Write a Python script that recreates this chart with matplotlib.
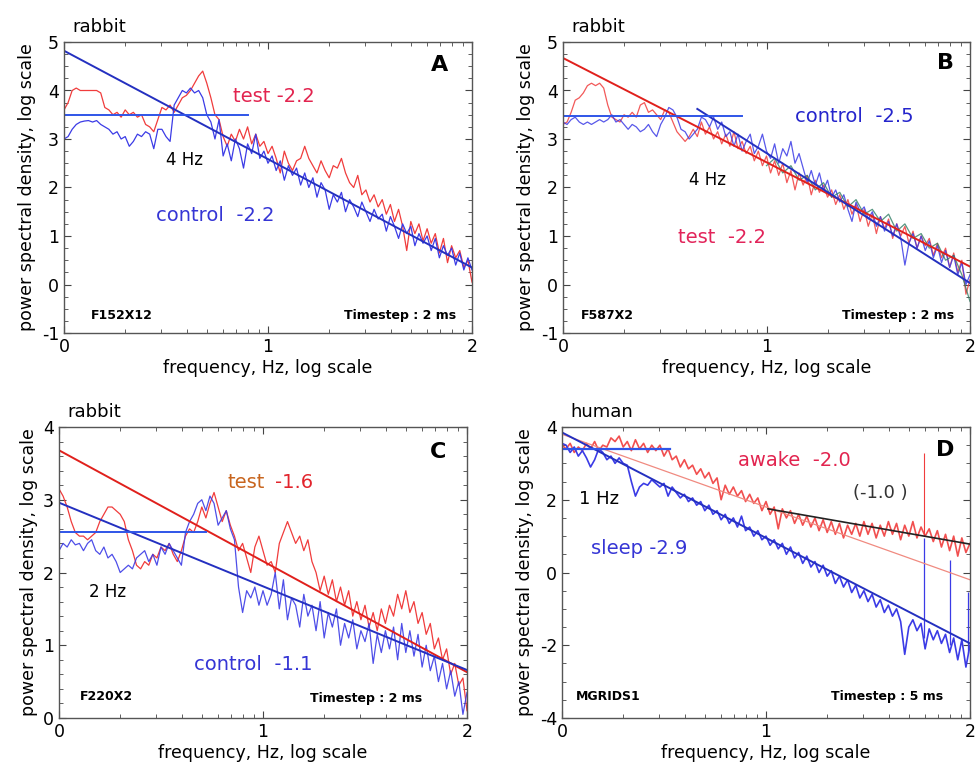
import numpy as np
import matplotlib
matplotlib.use("Agg")
import matplotlib.pyplot as plt
from matplotlib.ticker import FixedLocator, MultipleLocator

plt.rcParams['font.family'] = ['DejaVu Sans']
plt.rcParams['axes.unicode_minus'] = False

# ---------------- data (log10 frequency grid, log10 PSD) ----------------
freq_grid = np.linspace(0, 2, 101)

a_control = [3.00, 3.05, 3.20, 3.30, 3.35, 3.37, 3.38, 3.35, 3.38, 3.30,
             3.25, 3.20, 3.10, 3.15, 3.00, 3.05, 2.85, 2.95, 3.10, 3.05,
             3.15, 3.10, 2.80, 3.20, 3.20, 3.05, 2.95, 3.70, 3.85, 4.00,
             3.95, 4.05, 3.95, 4.00, 3.85, 3.50, 3.35, 3.00, 3.40, 2.65,
             2.90, 2.55, 3.00, 2.80, 2.40, 2.90, 2.70, 3.10, 2.60, 2.75,
             2.50, 2.65, 2.35, 2.55, 2.15, 2.45, 2.25, 2.40, 2.05, 2.30,
             2.00, 2.20, 1.80, 2.10, 1.95, 1.55, 1.85, 1.70, 1.90, 1.50,
             1.75, 1.60, 1.40, 1.70, 1.50, 1.30, 1.55, 1.35, 1.45, 1.10,
             1.40, 1.20, 0.95, 1.25, 1.05, 1.20, 0.80, 1.05, 0.85, 1.00,
             0.70, 0.95, 0.55, 0.80, 0.60, 0.75, 0.40, 0.65, 0.30, 0.55, 0.30]
a_test = [3.60, 3.75, 4.00, 4.05, 4.00, 4.00, 4.00, 4.00, 4.00, 3.95,
          3.65, 3.60, 3.50, 3.55, 3.45, 3.60, 3.50, 3.55, 3.45, 3.50,
          3.30, 3.25, 3.15, 3.40, 3.65, 3.60, 3.70, 3.55, 3.70, 3.85,
          3.90, 4.00, 4.15, 4.30, 4.40, 4.15, 3.85, 3.50, 3.40, 3.05,
          2.85, 3.10, 2.95, 3.20, 3.00, 3.25, 2.90, 3.10, 2.85, 2.95,
          2.70, 2.85, 2.60, 2.30, 2.75, 2.50, 2.35, 2.55, 2.60, 2.85,
          2.60, 2.45, 2.30, 2.55, 2.35, 2.20, 2.45, 2.40, 2.60, 2.30,
          2.10, 2.00, 2.25, 1.85, 1.95, 1.70, 1.85, 1.60, 1.75, 1.45,
          1.65, 1.30, 1.55, 1.20, 0.70, 1.30, 1.05, 1.25, 0.90, 1.15,
          0.85, 1.05, 0.65, 0.95, 0.45, 0.80, 0.55, 0.70, 0.35, 0.50, 0.05]

b_control = [3.35, 3.30, 3.40, 3.45, 3.35, 3.30, 3.35, 3.30, 3.35, 3.40,
             3.35, 3.40, 3.50, 3.35, 3.40, 3.30, 3.20, 3.30, 3.25, 3.15,
             3.20, 3.30, 3.15, 3.05, 3.30, 3.45, 3.65, 3.60, 3.45, 3.20,
             3.15, 3.00, 3.10, 3.20, 3.45, 3.40, 3.25, 3.45, 3.20, 3.35,
             3.05, 3.15, 2.85, 3.10, 2.75, 2.95, 3.10, 2.70, 2.85, 3.10,
             2.75, 2.60, 2.90, 2.50, 2.80, 2.65, 2.95, 2.50, 2.70, 2.40,
             2.10, 2.35, 2.05, 2.30, 1.95, 2.15, 1.80, 1.95, 1.70, 1.85,
             1.55, 1.30, 1.70, 1.50, 1.60, 1.35, 1.50, 1.20, 1.40, 1.10,
             1.30, 1.00, 1.25, 0.95, 0.40, 0.85, 1.05, 0.75, 1.00, 0.70,
             0.90, 0.55, 0.80, 0.45, 0.70, 0.35, 0.60, 0.20, 0.45, 0.00, 0.20]
b_test = [3.30, 3.35, 3.55, 3.80, 3.85, 3.95, 4.10, 4.15, 4.10, 4.15,
          4.05, 3.70, 3.45, 3.40, 3.35, 3.50, 3.45, 3.55, 3.45, 3.70,
          3.75, 3.55, 3.60, 3.50, 3.40, 3.60, 3.55, 3.35, 3.15, 3.05,
          2.95, 3.05, 3.20, 3.05, 3.35, 3.10, 3.25, 3.00, 3.15, 2.90,
          3.10, 2.85, 3.15, 2.80, 2.95, 2.70, 2.85, 2.55, 2.75, 2.45,
          2.65, 2.30, 2.55, 2.25, 2.50, 2.10, 2.35, 1.95, 2.30, 2.05,
          2.25, 1.85, 2.15, 1.90, 2.05, 1.80, 1.95, 1.65, 1.85, 1.55,
          1.75, 1.45, 1.65, 1.30, 1.55, 1.20, 1.45, 1.05, 1.40, 1.15,
          1.35, 0.95, 1.25, 1.00, 1.20, 0.85, 1.10, 0.75, 1.00, 0.80,
          0.95, 0.60, 0.85, 0.55, 0.75, 0.35, 0.65, 0.25, 0.50, -0.20, 0.10]
b_other_freq = np.linspace(1.0, 2.0, 26)
b_other = [2.45, 2.60, 2.30, 2.45, 2.15, 2.25, 1.95, 2.10, 1.80, 1.90,
           1.60, 1.75, 1.45, 1.55, 1.30, 1.45, 1.10, 1.25, 0.95, 1.05,
           0.75, 0.85, 0.50, 0.60, 0.20, -0.35]

c_control = [2.30, 2.40, 2.35, 2.45, 2.38, 2.40, 2.30, 2.40, 2.45, 2.30,
             2.25, 2.35, 2.20, 2.25, 2.15, 2.00, 2.05, 2.10, 2.05, 2.20,
             2.25, 2.30, 2.15, 2.25, 2.10, 2.35, 2.25, 2.40, 2.30, 2.20,
             2.10, 2.55, 2.70, 2.80, 2.95, 3.00, 2.85, 3.05, 2.95, 2.65,
             2.75, 2.85, 2.60, 2.45, 1.80, 1.45, 1.75, 1.65, 1.80, 1.55,
             1.75, 1.55, 1.70, 2.00, 1.50, 1.90, 1.35, 1.65, 1.55, 1.25,
             1.70, 1.40, 1.55, 1.20, 1.60, 1.10, 1.45, 1.25, 1.50, 1.00,
             1.30, 1.10, 1.35, 0.95, 1.20, 1.05, 1.30, 0.75, 1.15, 0.90,
             1.20, 0.95, 1.25, 0.80, 1.30, 0.90, 1.20, 0.85, 1.15, 0.70,
             1.00, 0.65, 0.85, 0.50, 0.75, 0.40, 0.65, 0.30, 0.50, 0.05, 0.35]
c_test = [3.15, 3.05, 2.90, 2.70, 2.55, 2.50, 2.50, 2.45, 2.50, 2.55,
          2.70, 2.80, 2.90, 2.90, 2.85, 2.80, 2.70, 2.45, 2.30, 2.10,
          2.05, 2.15, 2.10, 2.25, 2.20, 2.35, 2.30, 2.40, 2.25, 2.15,
          2.30, 2.50, 2.60, 2.55, 2.70, 2.90, 2.75, 2.95, 3.10, 2.90,
          2.70, 2.85, 2.65, 2.50, 2.30, 2.40, 2.20, 2.00, 2.35, 2.50,
          2.30, 2.10, 2.15, 2.00, 2.40, 2.55, 2.70, 2.55, 2.40, 2.50,
          2.30, 2.45, 2.15, 2.00, 1.75, 1.95, 1.70, 1.90, 1.60, 1.80,
          1.55, 1.75, 1.40, 1.60, 1.35, 1.55, 1.25, 1.45, 1.20, 1.50,
          1.30, 1.55, 1.40, 1.70, 1.50, 1.75, 1.45, 1.60, 1.30, 1.45,
          1.15, 1.30, 0.95, 1.10, 0.80, 0.95, 0.60, 0.75, 0.45, 0.55, 0.10]

d_sleep = [3.55, 3.50, 3.30, 3.45, 3.20, 3.35, 3.15, 2.90, 3.10, 3.40,
           3.30, 3.10, 3.20, 3.00, 3.15, 3.00, 2.95, 2.50, 2.10, 2.35,
           2.45, 2.40, 2.55, 2.45, 2.35, 2.45, 2.10, 2.35, 2.20, 2.05,
           2.15, 1.95, 2.05, 1.85, 1.95, 1.70, 1.85, 1.60, 1.70, 1.45,
           1.60, 1.35, 1.50, 1.25, 1.55, 1.15, 1.25, 1.00, 1.15, 0.90,
           1.00, 0.75, 0.90, 0.65, 0.80, 0.50, 0.70, 0.40, 0.55, 0.25,
           0.45, 0.15, 0.30, 0.00, 0.20, -0.10, 0.05, -0.30, -0.10, -0.40,
           -0.20, -0.55, -0.35, -0.70, -0.50, -0.80, -0.60, -0.95, -0.75, -1.10,
           -0.90, -1.20, -1.00, -1.35, -2.25, -1.50, -1.30, -1.60, -1.40, -2.10,
           -1.55, -1.85, -1.60, -1.95, -1.70, -2.20, -1.80, -2.40, -1.85, -2.60, -2.00]
d_awake = [3.50, 3.40, 3.55, 3.30, 3.45, 3.35, 3.55, 3.40, 3.60, 3.35,
           3.50, 3.45, 3.70, 3.60, 3.75, 3.45, 3.60, 3.35, 3.65, 3.40,
           3.55, 3.30, 3.50, 3.35, 3.50, 3.20, 3.40, 3.10, 3.20, 2.90,
           3.10, 2.85, 2.95, 2.70, 2.85, 2.60, 2.75, 2.45, 2.60, 2.00,
           2.40, 2.15, 2.35, 2.10, 2.25, 1.95, 2.15, 1.90, 2.05, 1.70,
           1.95, 1.60, 1.80, 1.20, 1.75, 1.50, 1.70, 1.35, 1.60, 1.30,
           1.55, 1.25, 1.50, 1.15, 1.45, 1.10, 1.40, 1.05, 1.35, 0.95,
           1.30, 1.05, 1.35, 1.00, 1.40, 1.05, 1.35, 0.95, 1.30, 1.00,
           1.40, 1.05, 1.35, 0.90, 1.30, 1.00, 1.40, 0.95, 1.25, 1.00,
           1.20, 0.85, 1.15, 0.70, 1.05, 0.60, 1.00, 0.45, 0.95, 0.55, 0.80]
d_sleep_spike_freq = [1.775, 1.90, 1.99]
d_sleep_spike_top = [0.95, 0.34, -0.54]
d_sleep_spike_bottom = [-1.80, -2.00, -2.20]
d_awake_spike_freq = [1.775]
d_awake_spike_top = [3.28]
d_awake_spike_bottom = [1.00]

# fitted lines: (x0, y0, x1, y1)
a_fit = (0.0, 4.82, 2.0, 0.35)
a_plateau = (0.0, 3.5, 0.9, 3.5)
b_fit_test = (0.0, 4.67, 2.0, 0.37)
b_fit_control = (0.66, 3.62, 2.0, 0.03)
b_plateau = (0.0, 3.48, 0.88, 3.48)
c_fit_test = (0.0, 3.68, 2.0, 0.63)
c_fit_control = (0.0, 2.96, 2.0, 0.66)
c_plateau = (0.0, 2.56, 0.72, 2.56)
d_fit_awake = (0.0, 3.80, 2.0, -0.20)
d_fit_sleep = (0.0, 3.85, 2.0, -1.95)
d_fit_high = (1.01, 1.75, 2.0, 0.78)
d_plateau = (0.0, 3.40, 0.53, 3.40)

BLUE = '#3b3be6'
RED = '#f03c3c'
FITBLUE = '#2430c0'
FITRED = '#e0201c'
PLATBLUE = '#2f55e8'

W, H = 977, 770
fig = plt.figure(figsize=(W / 100, H / 100), dpi=100)


def make_ax(left_px, top_px, right_px, bottom_px, ylim, yticks, ystep_minor):
    ax = fig.add_axes([left_px / W, 1 - bottom_px / H,
                       (right_px - left_px) / W, (bottom_px - top_px) / H])
    ax.set_xlim(0, 2)
    ax.set_ylim(*ylim)
    ax.set_xticks([0, 1, 2])
    minor_x = [d + np.log10(k) for d in (0, 1) for k in range(2, 10)]
    ax.xaxis.set_minor_locator(FixedLocator(minor_x))
    ax.set_yticks(yticks)
    ax.yaxis.set_minor_locator(MultipleLocator(ystep_minor))
    ax.tick_params(which='both', direction='in', top=True, right=True,
                   labelsize=12.5, color='#444444')
    ax.tick_params(which='major', length=5)
    ax.tick_params(which='minor', length=3)
    for s in ax.spines.values():
        s.set_color('#555555')
        s.set_linewidth(1.0)
    ax.set_xlabel('frequency, Hz, log scale', fontsize=12.5, labelpad=2)
    ax.set_ylabel('power spectral density, log scale', fontsize=12.5, labelpad=4)
    return ax


def seg(ax, s, **kw):
    ax.plot([s[0], s[2]], [s[1], s[3]], **kw)


# ---------------- panel A ----------------
ax = make_ax(64, 42, 472, 333, (-1, 5), [-1, 0, 1, 2, 3, 4, 5], 0.25)
ax.plot(freq_grid, a_test, color=RED, lw=0.9)
ax.plot(freq_grid, a_control, color=BLUE, lw=0.9)
seg(ax, a_fit, color=FITBLUE, lw=1.4)
seg(ax, a_plateau, color=PLATBLUE, lw=1.4)
ax.text(0.59, 2.57, '4 Hz', fontsize=12, ha='center', va='center')
ax.text(1.03, 3.87, 'test -2.2', fontsize=14, color='#e2244f', ha='center', va='center')
ax.text(0.74, 1.43, 'control  -2.2', fontsize=14, color='#3535d5', ha='center', va='center')
ax.text(1.84, 4.53, 'A', fontsize=16, fontweight='bold', ha='center', va='center')
ax.text(0.13, -0.63, 'F152X12', fontsize=9, fontweight='bold', ha='left', va='center')
ax.text(1.92, -0.63, 'Timestep : 2 ms', fontsize=9, fontweight='bold', ha='right', va='center')
ax.text(0.02, 1.05, 'rabbit', fontsize=13, transform=ax.transAxes, ha='left', va='center')

# ---------------- panel B ----------------
ax = make_ax(563, 42, 970, 333, (-1, 5), [-1, 0, 1, 2, 3, 4, 5], 0.25)
ax.plot(freq_grid, b_test, color=RED, lw=0.9, alpha=0.85)
ax.plot(freq_grid, b_control, color=BLUE, lw=0.9, alpha=0.85)
ax.plot(b_other_freq, b_other, color='#2e7d63', lw=0.9, alpha=0.8)
seg(ax, b_fit_test, color=FITRED, lw=1.4)
seg(ax, b_fit_control, color=FITBLUE, lw=1.4)
seg(ax, b_plateau, color=PLATBLUE, lw=1.4)
ax.text(0.71, 2.15, '4 Hz', fontsize=12, ha='center', va='center')
ax.text(1.43, 3.47, 'control  -2.5', fontsize=14, color='#2525cc', ha='center', va='center')
ax.text(0.78, 0.96, 'test  -2.2', fontsize=14, color='#e2245a', ha='center', va='center')
ax.text(1.88, 4.57, 'B', fontsize=16, fontweight='bold', ha='center', va='center')
ax.text(0.09, -0.63, 'F587X2', fontsize=9, fontweight='bold', ha='left', va='center')
ax.text(1.92, -0.63, 'Timestep : 2 ms', fontsize=9, fontweight='bold', ha='right', va='center')
ax.text(0.02, 1.05, 'rabbit', fontsize=13, transform=ax.transAxes, ha='left', va='center')

# ---------------- panel C ----------------
ax = make_ax(59, 427, 467, 718, (0, 4), [0, 1, 2, 3, 4], 0.2)
ax.plot(freq_grid, c_test, color=RED, lw=0.9)
ax.plot(freq_grid, c_control, color=BLUE, lw=0.9, alpha=0.9)
seg(ax, c_fit_test, color=FITRED, lw=1.4)
seg(ax, c_fit_control, color=FITBLUE, lw=1.4)
seg(ax, c_plateau, color=PLATBLUE, lw=1.4)
ax.text(0.24, 1.73, '2 Hz', fontsize=12, ha='center', va='center')
ax.text(1.01, 3.24, 'test', fontsize=14, color='#c8651e', ha='right', va='center')
ax.text(1.06, 3.24, '-1.6', fontsize=14, color='#e2242c', ha='left', va='center')
ax.text(0.95, 0.73, 'control  -1.1', fontsize=14, color='#3535d5', ha='center', va='center')
ax.text(1.86, 3.66, 'C', fontsize=16, fontweight='bold', ha='center', va='center')
ax.text(0.10, 0.29, 'F220X2', fontsize=9, fontweight='bold', ha='left', va='center')
ax.text(1.78, 0.27, 'Timestep : 2 ms', fontsize=9, fontweight='bold', ha='right', va='center')
ax.text(0.02, 1.05, 'rabbit', fontsize=13, transform=ax.transAxes, ha='left', va='center')

# ---------------- panel D ----------------
ax = make_ax(562, 427, 970, 718, (-4, 4), [-4, -2, 0, 2, 4], 0.5)
ax.plot(freq_grid, d_awake, color=RED, lw=1.2, alpha=0.9)
ax.vlines(d_awake_spike_freq, d_awake_spike_bottom, d_awake_spike_top, color=RED, lw=0.8)
ax.plot(freq_grid, d_sleep, color=BLUE, lw=1.2)
ax.vlines(d_sleep_spike_freq, d_sleep_spike_bottom, d_sleep_spike_top, color=BLUE, lw=0.9)
seg(ax, d_fit_awake, color='#f08a80', lw=0.9)
seg(ax, d_fit_sleep, color=FITBLUE, lw=1.4)
seg(ax, d_fit_high, color='#222222', lw=1.2)
seg(ax, d_plateau, color=PLATBLUE, lw=1.6)
ax.text(0.18, 2.02, '1 Hz', fontsize=13, ha='center', va='center')
ax.text(1.14, 3.09, 'awake  -2.0', fontsize=14, color='#e2244f', ha='center', va='center')
ax.text(1.56, 2.19, '(-1.0 )', fontsize=13, color='#333333', ha='center', va='center')
ax.text(0.38, 0.67, 'sleep -2.9', fontsize=14, color='#3535d5', ha='center', va='center')
ax.text(1.88, 3.37, 'D', fontsize=16, fontweight='bold', ha='center', va='center')
ax.text(0.07, -3.42, 'MGRIDS1', fontsize=9, fontweight='bold', ha='left', va='center')
ax.text(1.87, -3.42, 'Timestep : 5 ms', fontsize=9, fontweight='bold', ha='right', va='center')
ax.text(0.02, 1.05, 'human', fontsize=13, transform=ax.transAxes, ha='left', va='center')

fig.savefig('out.png', dpi=100, facecolor='white')
